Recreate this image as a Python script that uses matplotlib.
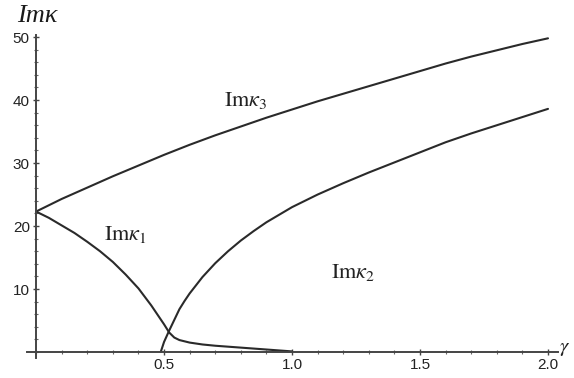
import matplotlib
matplotlib.use("Agg")
import matplotlib.pyplot as plt
from matplotlib.ticker import MultipleLocator, FixedLocator

plt.rcParams["mathtext.fontset"] = "stix"

# Branch values read along gamma
gamma_k1 = [0.0, 0.05, 0.1, 0.15, 0.2, 0.25, 0.3, 0.35, 0.4, 0.45, 0.5, 0.52,
            0.54, 0.56, 0.6, 0.65, 0.7, 0.8, 0.9, 0.95, 1.0]
im_k1 = [22.3, 21.3, 20.1, 18.9, 17.5, 16.0, 14.3, 12.3, 10.1, 7.4, 4.4, 3.1,
         2.3, 1.9, 1.5, 1.2, 1.0, 0.7, 0.4, 0.25, 0.1]

gamma_k2 = [0.487, 0.50, 0.52, 0.54, 0.56, 0.58, 0.6, 0.65, 0.7, 0.75, 0.8, 0.85,
            0.9, 1.0, 1.1, 1.2, 1.3, 1.4, 1.5, 1.6, 1.7, 1.8, 1.9, 2.0]
im_k2 = [0.0, 1.6, 3.4, 5.1, 6.8, 8.1, 9.3, 11.9, 14.1, 16.0, 17.7, 19.2,
         20.6, 23.0, 25.0, 26.8, 28.5, 30.1, 31.7, 33.3, 34.7, 36.0, 37.3, 38.6]

gamma_k3 = [0.0, 0.1, 0.2, 0.3, 0.4, 0.5, 0.6, 0.7, 0.8, 0.9, 1.0, 1.1, 1.2,
            1.3, 1.4, 1.5, 1.6, 1.7, 1.8, 1.9, 2.0]
im_k3 = [22.3, 24.3, 26.1, 27.9, 29.6, 31.3, 32.9, 34.4, 35.8, 37.2, 38.5, 39.8,
         41.0, 42.2, 43.4, 44.6, 45.8, 46.9, 47.9, 48.9, 49.8]

curve_labels = [r"$\mathrm{Im}\kappa_1$", r"$\mathrm{Im}\kappa_2$", r"$\mathrm{Im}\kappa_3$"]
label_pos = [(0.348, 18.6), (1.238, 12.7), (0.82, 40.0)]

x_major = [0.5, 1.0, 1.5, 2.0]
x_major_labels = ["0.5", "1.0", "1.5", "2.0"]
y_major = [10, 20, 30, 40, 50]
y_major_labels = ["10", "20", "30", "40", "50"]

fig = plt.figure(figsize=(5.74, 3.78), dpi=100)
ax = fig.add_axes([0.045, 0.0487, 0.932, 0.8616])
ax.set_xlim(-0.04, 2.05)
ax.set_ylim(-1.2, 50.5)

line_kw = dict(color="#2a2a2a", lw=1.5, solid_capstyle="round", solid_joinstyle="round")
ax.plot(gamma_k1, im_k1, **line_kw)
ax.plot(gamma_k2, im_k2, **line_kw)
ax.plot(gamma_k3, im_k3, **line_kw)

for txt, (x, y) in zip(curve_labels, label_pos):
    ax.text(x, y, txt, fontsize=16, ha="center", va="center", color="#222222")

# Axes crossing at the origin
for side in ("top", "right"):
    ax.spines[side].set_visible(False)
ax.spines["left"].set_position(("data", 0))
ax.spines["bottom"].set_position(("data", 0))
ax.spines["left"].set_bounds(-0.9, 50.3)
ax.spines["bottom"].set_bounds(-0.035, 2.04)
for side in ("left", "bottom"):
    ax.spines[side].set_color("#444444")
    ax.spines[side].set_linewidth(1.4)

ax.xaxis.set_major_locator(FixedLocator(x_major))
ax.set_xticklabels(x_major_labels)
ax.yaxis.set_major_locator(FixedLocator(y_major))
ax.set_yticklabels(y_major_labels)
ax.xaxis.set_minor_locator(MultipleLocator(0.1))
ax.yaxis.set_minor_locator(MultipleLocator(2))
ax.tick_params(which="major", direction="inout", length=5, width=1.0, color="#444444",
               labelsize=11, labelcolor="#222222", pad=2)
ax.tick_params(which="minor", direction="inout", length=3, width=0.8, color="#666666")
for lab in ax.get_xticklabels() + ax.get_yticklabels():
    lab.set_fontfamily("Liberation Sans")

fig.text(37 / 574, 1 - 16 / 378, "Imκ", fontsize=19, ha="center", va="center",
         color="#1a1a1a", family="Liberation Serif", style="italic")
fig.text(565 / 574, 1 - 348 / 378, r"$\gamma$", fontsize=15, ha="center", va="center",
         color="#222222")

fig.savefig("out.png", dpi=100)
